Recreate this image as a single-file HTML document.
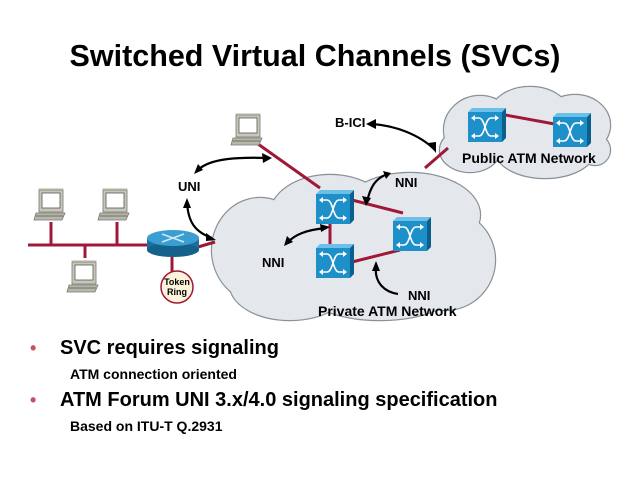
<!DOCTYPE html>
<html><head><style>
body{margin:0;width:640px;height:480px;background:#fff;overflow:hidden;font-family:"Liberation Sans",Arial,sans-serif}
</style></head><body>
<svg width="640" height="480" viewBox="0 0 640 480" xmlns="http://www.w3.org/2000/svg" font-family="Liberation Sans, Arial, sans-serif">
<defs>
<g id="sw">
<polygon points="0,4 4,0 38,0 34,4" fill="#6cc0e8"/>
<polygon points="34,4 38,0 38,30 34,34" fill="#0a5f8c"/>
<rect x="0" y="4" width="34" height="30" fill="#1d8fc9"/>
<g stroke="#fff" stroke-width="1.6" fill="none">
<path d="M5,10 H11 C17,10 17,28 23,28 H29"/>
<path d="M5,28 H11 C17,28 17,10 23,10 H29"/>
</g>
<g fill="#fff"><polygon points="3,10 7,7 7,13"/><polygon points="31,10 27,7 27,13"/><polygon points="3,28 7,25 7,31"/><polygon points="31,28 27,25 27,31"/></g>
</g>
<g id="pc">
<polygon points="4,0 30,0 28,3 6,3" fill="#d8d8cc"/>
<rect x="5" y="2" width="24" height="22" fill="#c8c8b8" stroke="#777" stroke-width="0.8"/>
<rect x="8" y="5" width="18" height="15" fill="#fff" stroke="#555" stroke-width="0.8"/>
<polygon points="2,25 31,25 28,32 0,32" fill="#b8b8a8" stroke="#777" stroke-width="0.8"/>
<line x1="2" y1="28" x2="29" y2="28" stroke="#555" stroke-width="0.8"/>
</g>
</defs>
<text x="315" y="66" font-size="30.5" font-weight="bold" text-anchor="middle">Switched Virtual Channels (SVCs)</text>

<g stroke="#8a9298" stroke-width="2.4">
<ellipse cx="480" cy="130" rx="36" ry="34"/><ellipse cx="530" cy="115" rx="40" ry="28"/><ellipse cx="575" cy="125" rx="35" ry="30"/><ellipse cx="545" cy="150" rx="50" ry="28"/><ellipse cx="470" cy="150" rx="30" ry="22"/><ellipse cx="595" cy="150" rx="15" ry="15"/>
</g>
<g fill="#e4e8ec">
<ellipse cx="480" cy="130" rx="36" ry="34"/><ellipse cx="530" cy="115" rx="40" ry="28"/><ellipse cx="575" cy="125" rx="35" ry="30"/><ellipse cx="545" cy="150" rx="50" ry="28"/><ellipse cx="470" cy="150" rx="30" ry="22"/><ellipse cx="595" cy="150" rx="15" ry="15"/>
</g>
<g stroke="#8a9298" stroke-width="2.4">
<ellipse cx="260" cy="250" rx="48" ry="52"/><ellipse cx="330" cy="215" rx="60" ry="40"/><ellipse cx="410" cy="215" rx="70" ry="42"/><ellipse cx="445" cy="260" rx="50" ry="50"/><ellipse cx="380" cy="285" rx="80" ry="35"/><ellipse cx="290" cy="285" rx="60" ry="35"/><ellipse cx="350" cy="250" rx="90" ry="50"/>
</g>
<g fill="#e4e8ec">
<ellipse cx="260" cy="250" rx="48" ry="52"/><ellipse cx="330" cy="215" rx="60" ry="40"/><ellipse cx="410" cy="215" rx="70" ry="42"/><ellipse cx="445" cy="260" rx="50" ry="50"/><ellipse cx="380" cy="285" rx="80" ry="35"/><ellipse cx="290" cy="285" rx="60" ry="35"/><ellipse cx="350" cy="250" rx="90" ry="50"/>
</g>

<g stroke="#a01838" stroke-width="3" fill="none">
<line x1="258" y1="144" x2="320" y2="188"/>
<line x1="425" y1="168" x2="448" y2="148"/>
<line x1="403" y1="213" x2="352" y2="200"/>
<line x1="330" y1="222" x2="330" y2="244"/>
<line x1="352" y1="262" x2="400" y2="250"/>
<line x1="500" y1="114" x2="560" y2="125"/>
<line x1="28" y1="245" x2="150" y2="245"/>
<line x1="51" y1="222" x2="51" y2="245"/>
<line x1="117" y1="222" x2="117" y2="245"/>
<line x1="85" y1="245" x2="85" y2="258"/>
<line x1="172" y1="255" x2="172" y2="272"/>
<line x1="198" y1="247" x2="215" y2="242"/>
</g>

<use href="#pc" x="231" y="113"/>
<use href="#pc" x="34" y="188"/>
<use href="#pc" x="98" y="188"/>
<use href="#pc" x="67" y="260"/>

<use href="#sw" x="316" y="190"/>
<use href="#sw" x="393" y="217"/>
<use href="#sw" x="316" y="244"/>
<use href="#sw" x="468" y="108"/>
<use href="#sw" x="553" y="113"/>

<rect x="147" y="238" width="52" height="12" fill="#1a6f9e"/>
<ellipse cx="173" cy="250" rx="26" ry="7" fill="#14628c"/>
<ellipse cx="173" cy="238" rx="26" ry="8" fill="#3a9fd0"/>
<g stroke="#cfe8f6" stroke-width="1.5"><line x1="162" y1="234" x2="184" y2="242"/><line x1="162" y1="242" x2="184" y2="234"/></g>
<circle cx="177" cy="287" r="16" fill="#fbf3dc" stroke="#a01838" stroke-width="1.5"/>
<text x="177" y="285" font-size="9" text-anchor="middle" font-weight="bold">Token</text>
<text x="177" y="295" font-size="9" text-anchor="middle" font-weight="bold">Ring</text>

<g stroke="#000" stroke-width="2.2" fill="none">
<path d="M198,170 C210,158 240,157 268,158"/>
<path d="M187,202 C188,222 195,232 212,238"/>
<path d="M370,124 C395,125 420,135 435,150"/>
<path d="M388,174 C375,178 370,188 367,202"/>
<path d="M326,228 C305,230 295,235 288,242"/>
<path d="M376,266 C374,282 384,292 398,294"/>
</g>
<g fill="#000">
<polygon points="272,158 262,153 263,163"/>
<polygon points="194,174 198,164 203,170"/>
<polygon points="187,198 183,208 191,208"/>
<polygon points="216,240 206,233 206,241"/>
<polygon points="366,124 376,119 376,129"/>
<polygon points="436,153 428,143 436,142"/>
<polygon points="366,206 362,196 371,198"/>
<polygon points="391,173 383,171 386,179"/>
<polygon points="330,227 320,224 321,232"/>
<polygon points="284,246 287,236 293,242"/>
<polygon points="376,261 372,271 380,271"/>
</g>

<g font-size="13" font-weight="bold">
<text x="335" y="127">B-ICI</text>
<text x="462" y="163" font-size="14">Public ATM Network</text>
<text x="395" y="187">NNI</text>
<text x="178" y="191">UNI</text>
<text x="262" y="267">NNI</text>
<text x="408" y="300">NNI</text>
<text x="318" y="316" font-size="14">Private ATM Network</text>
</g>

<g font-weight="bold">
<text x="30" y="354" font-size="18" fill="#c85060">•</text>
<text x="60" y="354" font-size="20">SVC requires signaling</text>
<text x="70" y="379" font-size="14">ATM connection oriented</text>
<text x="30" y="406" font-size="18" fill="#c85060">•</text>
<text x="60" y="406" font-size="20">ATM Forum UNI 3.x/4.0 signaling specification</text>
<text x="70" y="431" font-size="14">Based on ITU-T Q.2931</text>
</g>
</svg>
</body></html>
